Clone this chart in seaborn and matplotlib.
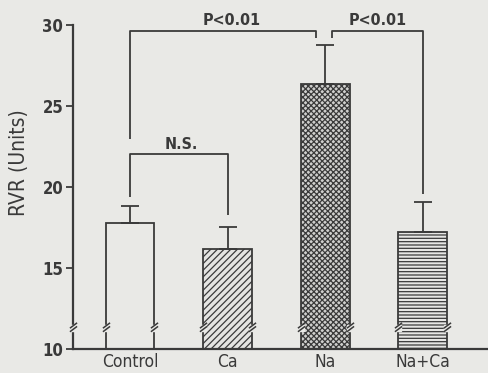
import numpy as np
import pandas as pd
import matplotlib
matplotlib.use("Agg")
import matplotlib.pyplot as plt
from matplotlib.path import Path
import seaborn as sns

# ---- data ----
groups = ["Control", "Ca", "Na", "Na+Ca"]
means = [17.75, 16.2, 26.35, 17.2]
sem = [1.1, 1.35, 2.4, 1.85]
yticks = [10, 15, 20, 25, 30]

BG = "#e9e9e6"
INK = "#3a3a3a"

sns.set_style("ticks")
plt.rcParams["font.family"] = ["DejaVu Sans"]
plt.rcParams["font.stretch"] = "condensed"
plt.rcParams["hatch.linewidth"] = 0.9
plt.rcParams["hatch.color"] = "#555555"

fig = plt.figure(figsize=(4.88, 3.73), dpi=100, facecolor=BG)
ax = fig.add_axes([0.1496, 0.0643, 0.8504, 0.8686], facecolor=BG)

df = pd.DataFrame({"group": groups, "mean": means})
sns.barplot(data=df, x="group", y="mean", ax=ax, width=0.5, color=BG,
            edgecolor=INK, linewidth=1.3, errorbar=None)

styles = [
    dict(face=BG, hatch=None),
    dict(face="#e4e4e2", hatch="/////"),
    dict(face="#cfcfcd", hatch="xxxxxx"),
    dict(face="#e6e6e4", hatch="-----"),
]
for p, st in zip(ax.patches, styles):
    p.set_facecolor(st["face"])
    if st["hatch"]:
        p.set_hatch(st["hatch"])
    p.set_edgecolor(INK)

x = np.arange(len(groups))
ax.errorbar(x, means, yerr=[np.zeros(len(sem)), sem], fmt="none",
            ecolor=INK, elinewidth=1.3, capsize=6.5, capthick=1.3)

ax.set_ylim(10, 30)
ax.set_xlim(-0.585, 3.67)
ax.set_yticks(yticks)
ax.set_yticklabels([str(t) for t in yticks], fontsize=12, fontweight="bold",
                   color=INK, fontstretch="condensed")
ax.tick_params(axis="y", direction="out", length=5, width=1.3, color=INK, pad=2)
ax.tick_params(axis="x", length=0, pad=3, labelsize=12.5, labelcolor=INK)
for lab in ax.get_xticklabels():
    lab.set_fontstretch("condensed")
ax.set_xlabel("")
ax.set_ylabel("RVR (Units)", fontsize=15, color=INK,
              fontstretch="condensed")
ax.yaxis.set_label_coords(-0.105, 0.574)
for s in ["top", "right"]:
    ax.spines[s].set_visible(False)
for s in ["left", "bottom"]:
    ax.spines[s].set_linewidth(1.6)
    ax.spines[s].set_color(INK)

# ---- axis / bar break marks ----
brk_y = 11.3
slash = Path([(-0.8, -0.6), (0.8, 0.6), (-0.8, -1.4), (0.8, -0.2)],
             [Path.MOVETO, Path.LINETO, Path.MOVETO, Path.LINETO])
edges = [ax.get_xlim()[0]]
for p in ax.patches:
    edges += [p.get_x(), p.get_x() + p.get_width()]
for ex in edges:
    ax.plot([ex], [brk_y], marker="s", ms=5, mfc=BG, mec=BG, clip_on=False, zorder=5)
    ax.plot([ex], [brk_y + 0.2], marker=slash, ms=9, mew=1.1, color=INK,
            linestyle="none", clip_on=False, zorder=6)

# ---- significance brackets ----
lw = 1.3
kw = dict(color=INK, lw=lw, clip_on=False, solid_capstyle="butt")
top = 29.65
ax.plot([0, 0, 2 - 0.09, 2 - 0.09], [22.95, top, top, 29.2], **kw)
ax.plot([2 + 0.07, 2 + 0.07, 3, 3], [29.2, top, top, 19.6], **kw)
ax.plot([0, 0, 1, 1], [19.4, 22.05, 22.05, 18.27], **kw)

tkw = dict(ha="center", va="center", fontsize=11.5, fontweight="bold",
           color=INK, clip_on=False, fontstretch="condensed")
ax.text(1.04, 30.3, "P<0.01", **tkw)
ax.text(2.54, 30.3, "P<0.01", **tkw)
ax.text(0.53, 22.65, "N.S.", **tkw)

fig.savefig("out.png", dpi=100, facecolor=BG)
